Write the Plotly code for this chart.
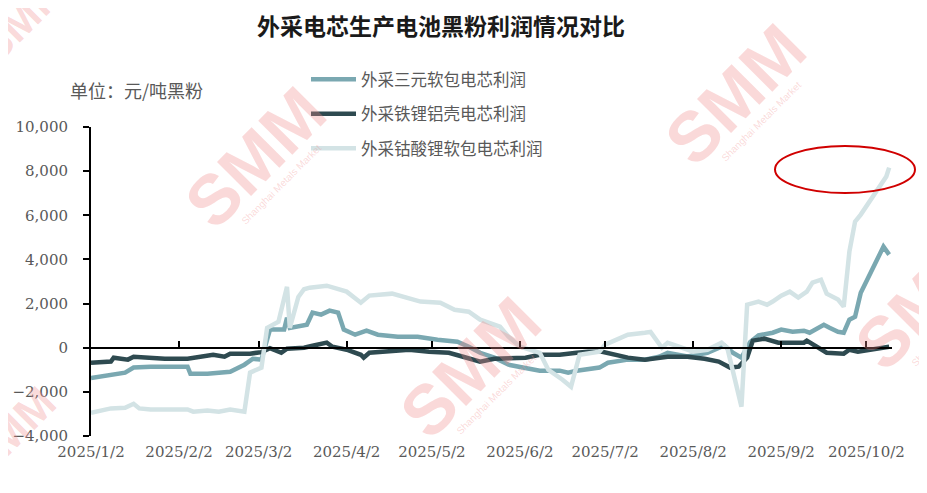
import plotly.graph_objects as go

# ---------------- data ----------------
ncm_dates = ["2025-01-02","2025-01-09","2025-01-14","2025-01-17","2025-01-23","2025-02-05","2025-02-06",
             "2025-02-12","2025-02-20","2025-02-25","2025-02-28","2025-03-03","2025-03-06","2025-03-11",
             "2025-03-12","2025-03-13","2025-03-19","2025-03-21","2025-03-24","2025-03-27","2025-03-30",
             "2025-04-01","2025-04-05","2025-04-09","2025-04-13","2025-04-20","2025-04-27","2025-05-04",
             "2025-05-11","2025-05-15","2025-05-19","2025-05-24","2025-05-29","2025-06-03","2025-06-09",
             "2025-06-16","2025-06-19","2025-06-22","2025-06-26","2025-06-30","2025-07-03","2025-07-10",
             "2025-07-16","2025-07-21","2025-07-24","2025-07-31","2025-08-07","2025-08-11","2025-08-13",
             "2025-08-16","2025-08-19","2025-08-22","2025-08-25","2025-08-30","2025-09-02","2025-09-06",
             "2025-09-10","2025-09-12","2025-09-14","2025-09-16","2025-09-17","2025-09-19","2025-09-22",
             "2025-09-24","2025-09-26","2025-09-28","2025-09-30","2025-10-08","2025-10-10"]
ncm_values = [-1370,-1220,-1130,-900,-860,-860,-1180,
              -1180,-1090,-770,-500,-540,820,820,
              1360,900,1040,1590,1500,1680,1590,
              820,590,770,590,500,500,360,
              270,45,-230,-450,-770,-900,-1040,
              -1040,-1130,-1040,-950,-900,-680,-540,
              -540,-410,-230,-400,-230,0,100,
              -230,-450,250,560,680,820,720,
              770,680,820,950,1040,900,720,
              680,1270,1400,2490,4580,4220]

lfp_dates = ["2025-01-02","2025-01-09","2025-01-10","2025-01-15","2025-01-17","2025-01-23","2025-01-28",
             "2025-02-05","2025-02-09","2025-02-14","2025-02-18","2025-02-20","2025-02-27","2025-03-03",
             "2025-03-06","2025-03-10","2025-03-12","2025-03-18","2025-03-21","2025-03-26","2025-03-28",
             "2025-04-02","2025-04-07","2025-04-08","2025-04-10","2025-04-17","2025-04-24","2025-05-01",
             "2025-05-08","2025-05-13","2025-05-19","2025-05-24","2025-06-04","2025-06-09","2025-06-16",
             "2025-06-22","2025-06-26","2025-07-01","2025-07-05","2025-07-10","2025-07-16","2025-07-21",
             "2025-07-24","2025-07-31","2025-08-06","2025-08-11","2025-08-15","2025-08-18","2025-08-21",
             "2025-08-23","2025-08-27","2025-09-01","2025-09-05","2025-09-10","2025-09-11","2025-09-14",
             "2025-09-15","2025-09-18","2025-09-24","2025-09-26","2025-09-29","2025-10-03","2025-10-10"]
lfp_values = [-680,-630,-450,-540,-410,-450,-500,
              -500,-410,-320,-410,-270,-270,-200,
              -20,-230,-45,0,90,230,45,
              -90,-320,-450,-230,-180,-90,-180,
              -230,-410,-630,-500,-450,-320,-320,
              -230,-180,-180,-320,-450,-540,-450,
              -410,-410,-500,-630,-900,-860,-450,
              320,410,230,230,230,320,90,
              45,-230,-270,-90,-180,-90,45]

lco_dates = ["2025-01-02","2025-01-09","2025-01-14","2025-01-17","2025-01-19","2025-01-23","2025-02-05",
             "2025-02-07","2025-02-12","2025-02-16","2025-02-20","2025-02-23","2025-02-25","2025-02-27",
             "2025-03-03","2025-03-05","2025-03-09","2025-03-12","2025-03-13","2025-03-16","2025-03-18",
             "2025-03-20","2025-03-26","2025-04-02","2025-04-07","2025-04-10","2025-04-18","2025-04-28",
             "2025-05-05","2025-05-10","2025-05-15","2025-05-19","2025-05-26","2025-05-29","2025-06-02",
             "2025-06-09","2025-06-12","2025-06-17","2025-06-20","2025-06-23","2025-06-30","2025-07-02",
             "2025-07-07","2025-07-10","2025-07-16","2025-07-18","2025-07-22","2025-07-24","2025-07-28",
             "2025-08-02","2025-08-07","2025-08-12","2025-08-14","2025-08-19","2025-08-21","2025-08-25",
             "2025-08-28","2025-08-30","2025-09-02","2025-09-05","2025-09-08","2025-09-11","2025-09-13",
             "2025-09-16","2025-09-18","2025-09-22","2025-09-24","2025-09-26","2025-09-28","2025-09-30",
             "2025-10-09","2025-10-10"]
lco_values = [-2950,-2750,-2720,-2540,-2750,-2800,-2800,
              -2900,-2850,-2900,-2800,-2850,-2900,-1130,
              -900,900,1180,2760,900,2300,2650,
              2720,2810,2540,2040,2360,2450,2090,
              2040,1720,1630,1270,950,500,50,
              -230,-1000,-1450,-1770,-320,-180,140,
              450,590,680,720,0,220,50,
              -180,-90,230,0,-2670,1950,2090,
              1950,2090,2360,2540,2270,2540,2950,
              3080,2450,2180,1860,4350,5710,6030,
              7760,8160]

series_names = ["外采三元软包电芯利润", "外采铁锂铝壳电芯利润", "外采钴酸锂软包电芯利润"]
series_colors = ["#7AA8B1", "#2E4A50", "#D3E3E5"]

tick_dates = ["2025-01-02","2025-02-02","2025-03-02","2025-04-02","2025-05-02",
              "2025-06-02","2025-07-02","2025-08-02","2025-09-02","2025-10-02"]
tick_labels = ["2025/1/2","2025/2/2","2025/3/2","2025/4/2","2025/5/2",
               "2025/6/2","2025/7/2","2025/8/2","2025/9/2","2025/10/2"]
y_ticks = [-4000, -2000, 0, 2000, 4000, 6000, 8000, 10000]

title_text = "外采电芯生产电池黑粉利润情况对比"
unit_text = "单位：元/吨黑粉"

# ---------------- figure ----------------
FONT = "Noto Sans CJK SC, sans-serif"
TICKFONT = "DejaVu Serif, serif"
GRAY = "#595959"
OFF = 8                      # page body margin of the rendered html
SL, ST = 91, 127             # plot-area top-left in the screenshot
PW, PH = 801, 309            # plot-area size
W, H = 927, 493
ML, MT = SL - OFF, ST - OFF
MR, MB = W - ML - PW, H - MT - PH


def px(x):
    return (x - SL) / PW


def py(y):
    return (ST + PH - y) / PH


fig = go.Figure()
for name, color, xs, ys in zip(series_names, series_colors,
                                [ncm_dates, lfp_dates, lco_dates],
                                [ncm_values, lfp_values, lco_values]):
    fig.add_trace(go.Scatter(x=xs, y=ys, mode="lines", name=name, legendgroup=name,
                             line=dict(color=color, width=4.5)))

# invisible helper trace for the tick marks on the zero line
fig.add_trace(go.Scatter(x=[tick_dates[0]], y=[0], xaxis="x2", mode="lines",
                         showlegend=False, hoverinfo="skip", line=dict(width=0)))

x_range = ["2025-01-02", "2025-10-11"]
zero_frac = 4000 / 14000

fig.update_layout(
    width=W, height=H,
    paper_bgcolor="white", plot_bgcolor="white",
    margin=dict(l=ML, r=MR, t=MT, b=MB, autoexpand=False),
    font=dict(family=FONT, color=GRAY, size=15),
    title=dict(text="<b>" + title_text + "</b>", x=(441 - OFF) / W, xanchor="center",
               xref="container", y=1 - (27 - OFF) / H, yanchor="middle", yref="container",
               font=dict(family=FONT, size=23, color="#1a1a1a")),
    xaxis=dict(type="date", range=x_range, tickvals=tick_dates, ticktext=tick_labels,
               showline=False, ticks="", showgrid=False, zeroline=False,
               ticklabelstandoff=5,
               tickfont=dict(family=TICKFONT, size=15, color=GRAY)),
    xaxis2=dict(type="date", range=x_range, overlaying="x", anchor="free",
                position=zero_frac, tickvals=tick_dates, showticklabels=False,
                ticks="inside", ticklen=6, tickwidth=1.5, tickcolor="black",
                showline=True, linecolor="black", linewidth=2, showgrid=False,
                zeroline=False),
    yaxis=dict(range=[-4000, 10000], tickvals=y_ticks, tickformat=",",
               showline=True, linecolor="black", linewidth=2,
               ticks="outside", ticklen=6, tickwidth=2, tickcolor="black",
               ticklabelstandoff=12,
               showgrid=False, zeroline=False,
               tickfont=dict(family=TICKFONT, size=15, color=GRAY)),
    legend=dict(x=px(306), y=py(62), xanchor="left", yanchor="top",
                bgcolor="rgba(0,0,0,0)", font=dict(size=16.5, color=GRAY),
                tracegroupgap=10, itemwidth=45),
    showlegend=True,
)

# unit label
fig.add_annotation(text=unit_text, xref="paper", yref="paper",
                   x=px(68), y=py(90), xanchor="left", yanchor="middle",
                   showarrow=False, font=dict(size=18, color=GRAY))

# watermarks
WM = "rgba(240,140,140,0.33)"
for (cx, cy, sz) in [(255, 158, 70), (470, 368, 70), (735, 95, 70), (925, 300, 70),
                     (22, 18, 45), (10, 432, 45)]:
    fig.add_annotation(text="<b>SMM</b>", xref="paper", yref="paper",
                       x=px(cx), y=py(cy), xanchor="center", yanchor="middle",
                       showarrow=False, textangle=-45,
                       font=dict(family="Liberation Sans", size=sz, color=WM))
    if sz > 50:
        fig.add_annotation(text="Shanghai Metals Market", xref="paper", yref="paper",
                           x=px(cx + 26), y=py(cy + 26), xanchor="center", yanchor="middle",
                           showarrow=False, textangle=-45,
                           font=dict(family="Liberation Sans", size=10, color=WM))

# red highlight ellipse
fig.add_shape(type="circle", xref="paper", yref="paper",
              x0=px(775), x1=px(915), y0=py(193), y1=py(146),
              line=dict(color="#D00000", width=2))

fig.write_html("out.html")
